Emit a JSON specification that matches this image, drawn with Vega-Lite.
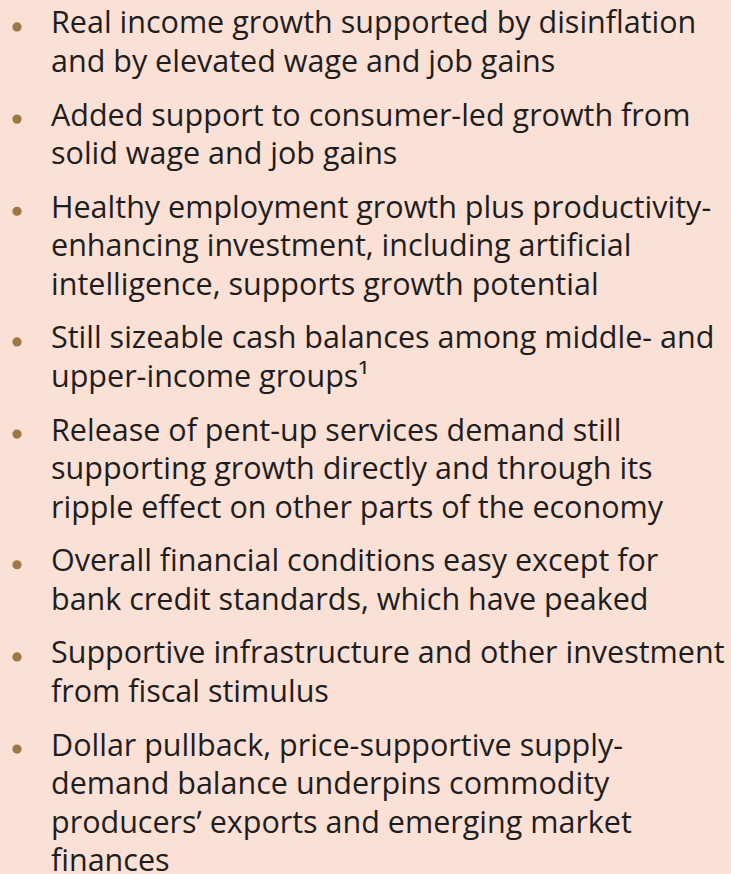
{
  "$schema": "https://vega.github.io/schema/vega-lite/v6.json",
  "width": 731,
  "height": 874,
  "padding": 0,
  "autosize": {"type": "none"},
  "background": "#FBE0D6",
  "config": {"view": {"stroke": null}},
  "data": {
    "values": [
      {"item": 1, "pos": 0, "text": "Real income growth supported by disinflation\nand by elevated wage and job gains"},
      {"item": 2, "pos": 2.39, "text": "Added support to consumer-led growth from\nsolid wage and job gains"},
      {"item": 3, "pos": 4.78, "text": "Healthy employment growth plus productivity-\nenhancing investment, including artificial\nintelligence, supports growth potential"},
      {"item": 4, "pos": 8.17, "text": "Still sizeable cash balances among middle- and\nupper-income groups¹"},
      {"item": 5, "pos": 10.56, "text": "Release of pent-up services demand still\nsupporting growth directly and through its\nripple effect on other parts of the economy"},
      {"item": 6, "pos": 13.95, "text": "Overall financial conditions easy except for\nbank credit standards, which have peaked"},
      {"item": 7, "pos": 16.34, "text": "Supportive infrastructure and other investment\nfrom fiscal stimulus"},
      {"item": 8, "pos": 18.73, "text": "Dollar pullback, price-supportive supply-\ndemand balance underpins commodity\nproducers’ exports and emerging market\nfinances"}
    ]
  },
  "encoding": {
    "y": {
      "field": "pos",
      "type": "quantitative",
      "scale": {"domain": [-0.7, 21.972], "zero": false, "nice": false, "reverse": true},
      "axis": null
    }
  },
  "layer": [
    {
      "mark": {"type": "point", "filled": true, "opacity": 1, "size": 85, "color": "#9E7843", "shape": "circle"},
      "encoding": {"x": {"value": 17}}
    },
    {
      "mark": {
        "type": "text",
        "align": "left",
        "baseline": "alphabetic",
        "dy": 6.5,
        "lineBreak": "\n",
        "lineHeight": 38.5,
        "font": "Open Sans",
        "fontSize": 30.5,
        "color": "#1E1E1E"
      },
      "encoding": {
        "x": {"value": 51},
        "text": {"field": "text", "type": "nominal"}
      }
    }
  ]
}
